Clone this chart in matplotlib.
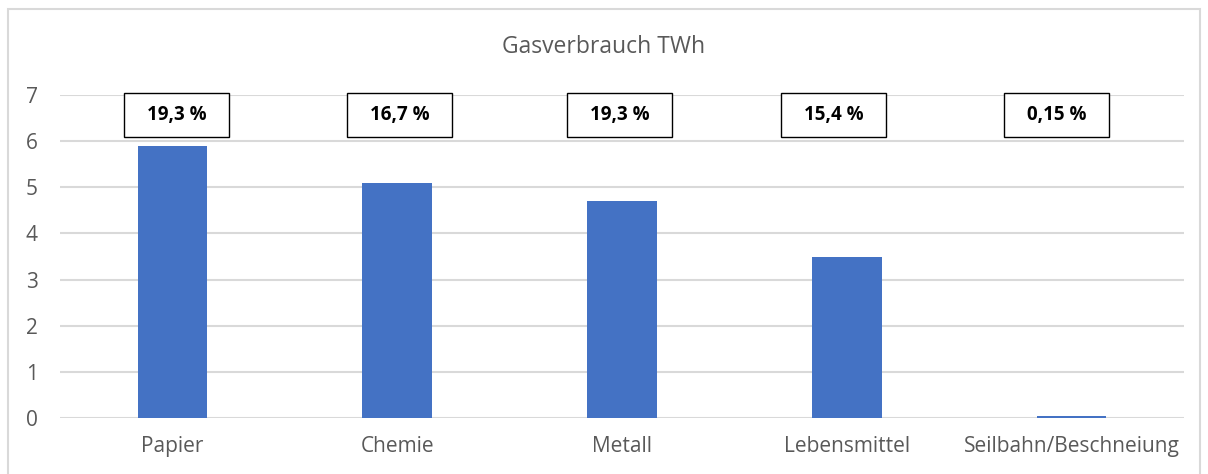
import matplotlib
matplotlib.use("Agg")
import matplotlib.pyplot as plt
from matplotlib.patches import Rectangle

categories = ["Papier", "Chemie", "Metall", "Lebensmittel", "Seilbahn/Beschneiung"]
values = [5.9, 5.1, 4.7, 3.5, 0.05]
shares = ["19,3 %", "16,7 %", "19,3 %", "15,4 %", "0,15 %"]
title = "Gasverbrauch TWh"

FONT = ["Open Sans", "DejaVu Sans"]
plt.rcParams['font.family'] = FONT

W, H = 1208, 474
fig = plt.figure(figsize=(W / 100, H / 100), dpi=100)
fig.patch.set_facecolor("white")

# outer chart border
fig.patches.append(Rectangle((8 / W, -0.05), (1200 - 8) / W, 1 - 9 / H + 0.05,
                             transform=fig.transFigure, fill=False,
                             edgecolor="#d9d9d9", linewidth=1.5))

ax = fig.add_axes([60 / W, 1 - 418 / H, (1184 - 60) / W, (418 - 95) / H])
x = list(range(len(categories)))
ax.bar(x, values, width=0.31, color="#4472C4", zorder=3)
ax.set_xlim(-0.5, len(categories) - 0.5)
ax.set_ylim(0, 7)
ax.set_yticks(range(0, 8))
ax.grid(axis="y", color="#d9d9d9", linewidth=1.5, zorder=0)
ax.set_axisbelow(True)
for s in ax.spines.values():
    s.set_visible(False)
ax.tick_params(axis="both", length=0, labelsize=15, colors="#595959")
ax.tick_params(axis="x", pad=13)
ax.tick_params(axis="y", pad=16)
ax.set_xticks(x)
ax.set_xticklabels(categories)

# percentage boxes
box_offsets = [0.018, 0.010, -0.009, -0.057, -0.067]
box_w = 0.467
y0, y1 = 6.08, 7.05
for i, (lab, off) in enumerate(zip(shares, box_offsets)):
    cx = x[i] + off
    ax.add_patch(Rectangle((cx - box_w / 2, y0), box_w, y1 - y0, facecolor="white",
                           edgecolor="black", linewidth=1.0, zorder=4, clip_on=False))
    ax.text(cx, (y0 + y1) / 2, lab, ha="center", va="center", fontsize=13.5,
            fontweight="bold", color="black", zorder=5)

fig.text(0.5, 1 - 47 / H, title, ha="center", va="center", fontsize=16.5, color="#595959")

fig.savefig("out.png", dpi=100)
